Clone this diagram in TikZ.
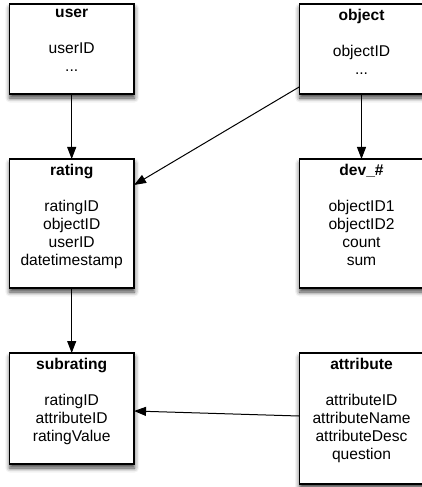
\documentclass[tikz,border=0pt]{standalone}
\usepackage{fontspec}
\setmainfont{Liberation Sans}
\usetikzlibrary{arrows.meta,shadows.blur}
\begin{document}
\begin{tikzpicture}[x=1bp,y=1bp,
  table/.style={draw=black, line width=1.3bp, fill=white, minimum width=124.7bp,
    inner sep=0pt, outer sep=0pt,
    blur shadow={shadow xshift=0.5bp, shadow yshift=-4bp, shadow blur radius=4.5bp, shadow opacity=75}},
  fields/.style={anchor=north, align=center, inner sep=0pt,
    font=\fontsize{15.6bp}{18bp}\selectfont},
  link/.style={draw=black, line width=1bp, -{Triangle[length=12bp,width=9bp]}}]
  \useasboundingbox (0,0) rectangle (421,-487);

  % tables
  \node[table, minimum height=90bp]  (user)      at (71.7,-49) {};
  \node[table, minimum height=90bp]  (object)    at (361.5,-49) {};
  \node[table, minimum height=129bp] (rating)    at (71.7,-223.5) {};
  \node[table, minimum height=129bp] (dev)       at (361.5,-223.5) {};
  \node[table, minimum height=111bp] (subrating) at (71.7,-408.5) {};
  \node[table, minimum height=131bp] (attribute) at (361.5,-418.5) {};

  % table names and columns
  \node[fields] (user-f)      at ([yshift=-5bp]user.north)      {\textbf{user}\\[18bp]userID\\...};
  \node[fields] (object-f)    at ([yshift=-5bp]object.north)    {\textbf{object}\\[18bp]objectID\\...};
  \node[fields] (rating-f)    at ([yshift=-5bp]rating.north)    {\textbf{rating}\\[18bp]ratingID\\objectID\\userID\\datetimestamp};
  \node[fields] (dev-f)       at ([yshift=-5bp]dev.north)       {\textbf{dev\_\#}\\[18bp]objectID1\\objectID2\\count\\sum};
  \node[fields] (subrating-f) at ([yshift=-5bp]subrating.north) {\textbf{subrating}\\[18bp]ratingID\\attributeID\\ratingValue};
  \node[fields] (attribute-f) at ([yshift=-5bp]attribute.north) {\textbf{attribute}\\[18bp]attributeID\\attributeName\\attributeDesc\\question};

  % relations
  \draw[link] (user.south) -- (rating.north);
  \draw[link] (object.south) -- (dev.north);
  \draw[link] (rating.south) -- (subrating.north);
  \draw[link] ([yshift=7bp]object.south west) -- ([yshift=-26bp]rating.north east);
  \draw[link] ([yshift=-63bp]attribute.north west) -- ([yshift=-58bp]subrating.north east);
\end{tikzpicture}
\end{document}
